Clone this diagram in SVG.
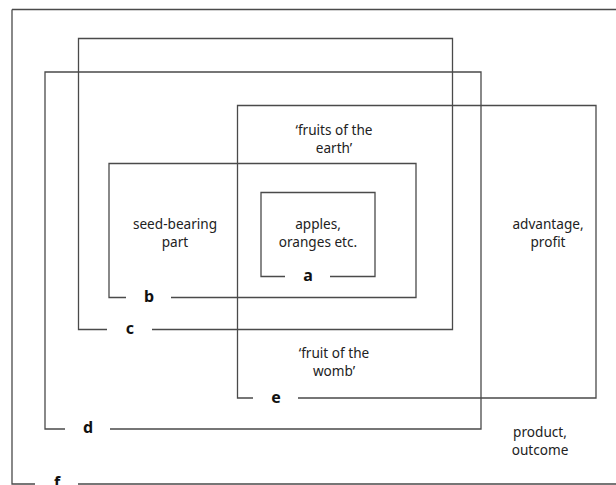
<svg xmlns="http://www.w3.org/2000/svg" width="616" height="485" viewBox="0 0 616 485">
<style>
.box{fill:none;stroke:#4a4a4a;stroke-width:1.3}
.lbl{font-family:"Noto Sans","Open Sans",sans-serif;font-size:13.6px;fill:#222;text-anchor:middle}
.key{font-family:"Noto Sans","Open Sans",sans-serif;font-size:16px;font-weight:bold;fill:#111;text-anchor:middle}
</style>
<rect width="616" height="485" fill="#fff"/>
<g id="connectors"></g>
<g id="node-f">
<path class="box" d="M78 484 H620 M12 9.5 H620 M12 9.5 V484 H35"/>
<text class="key" x="57" y="488">f</text>
</g>
<g id="node-d">
<path class="box" d="M110 429 H481 V72 H45 V429 H65"/>
<text class="key" x="88" y="433">d</text>
<text class="lbl" x="540" y="437">product,</text>
<text class="lbl" x="540" y="454.5">outcome</text>
</g>
<g id="node-c">
<path class="box" d="M152 329.5 H452.5 V38.5 H78.5 V329.5 H107"/>
<text class="key" x="130" y="334">c</text>
</g>
<g id="node-e">
<path class="box" d="M298 398 H596 V105.5 H237.5 V398 H253"/>
<text class="key" x="276" y="402.5">e</text>
<text class="lbl" x="334" y="135">‘fruits of the</text>
<text class="lbl" x="334" y="152.5">earth’</text>
<text class="lbl" x="334" y="358">‘fruit of the</text>
<text class="lbl" x="334" y="375.5">womb’</text>
<text class="lbl" x="548" y="229">advantage,</text>
<text class="lbl" x="548" y="246.5">profit</text>
</g>
<g id="node-b">
<path class="box" d="M171 297.5 H416 V163.5 H109 V297.5 H126"/>
<text class="key" x="149" y="302">b</text>
<text class="lbl" x="175" y="229">seed-bearing</text>
<text class="lbl" x="175" y="246.5">part</text>
</g>
<g id="node-a">
<path class="box" d="M330 276.5 H375 V192.5 H261 V276.5 H285"/>
<text class="key" x="308" y="281">a</text>
<text class="lbl" x="318" y="229">apples,</text>
<text class="lbl" x="318" y="246.5">oranges etc.</text>
</g>
</svg>
